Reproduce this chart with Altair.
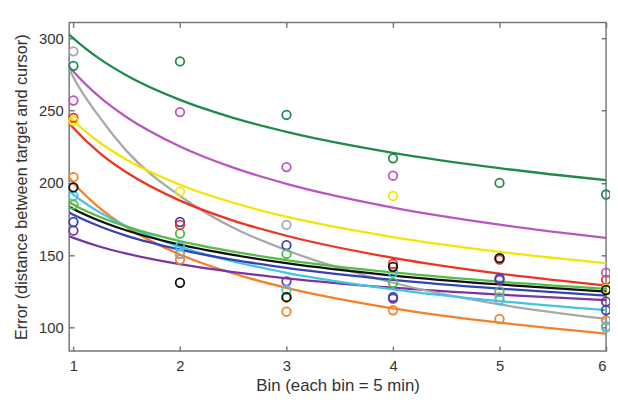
import altair as alt
import pandas as pd

# ---- data ----
series_names = ["orange", "purple", "gray", "cyan", "blue", "ltgreen", "red", "yellow", "magenta", "dkgreen", "black"]
series_colors = ["#f58025", "#7a35a5", "#a8a8a8", "#44c4e4", "#3344bb", "#55bb44", "#ee3322", "#f2e600", "#bb55c0", "#1e8b4c", "#111111"]

bins = [1, 2, 3, 4, 5, 6]
pts_orange = [204, 147, 111, 112, 106, 105]
pts_purple = [167, 151, 132, 120, 133, 118]
pts_gray = [291, 151, 171, 121, 121, 100]
pts_cyan = [191, 156, 126, 138, 119, 101]
pts_blue = [173, 173, 157, 121, 134, 112]
pts_ltgreen = [185, 165, 151, 131, 125, 126]
pts_red = [245, 171, 121, 144, 147, 133]
pts_yellow = [243, 194, 121, 191, 148, 127]
pts_magenta = [257, 249, 211, 205, 148, 138]
pts_dkgreen = [281, 284, 247, 217, 200, 192]
pts_black = [197, 131, 121, 142, 148, 126]

fit_x = [0.96, 1, 1.25, 1.5, 2, 2.5, 3, 4, 5, 6]
fit_orange = [203.4, 200, 182.5, 169.4, 150.5, 137.4, 127.5, 113.3, 103.4, 95.9]
fit_purple = [163.1, 162, 155.9, 151.1, 143.8, 138.4, 134.1, 127.6, 122.8, 119]
fit_gray = [279, 273, 245, 222, 191, 169, 153.5, 131, 116, 106]
fit_cyan = [194.4, 192, 179.5, 170, 155.8, 145.7, 137.9, 126.5, 118.3, 112]
fit_blue = [179.5, 178, 169.9, 163.4, 153.9, 146.8, 141.3, 133, 126.9, 122.1]
fit_ltgreen = [186.6, 185, 176.5, 169.8, 159.8, 152.5, 146.7, 138.1, 131.7, 126.8]
fit_red = [241.3, 238, 220.5, 207.2, 187.8, 174, 163.5, 148.2, 137.3, 129]
fit_yellow = [245.9, 243, 227.8, 216, 198.8, 186.3, 176.7, 162.6, 152.4, 144.5]
fit_magenta = [280.4, 277, 259.1, 245.4, 225.2, 210.6, 199.4, 183, 171.2, 162.1]
fit_dkgreen = [302.7, 300, 285.6, 274.3, 257.4, 245, 235.3, 220.8, 210.2, 201.9]
fit_black = [183.6, 182, 173.7, 167.1, 157.3, 150.2, 144.5, 136, 129.8, 124.9]

x_ticks = [1, 2, 3, 4, 5, 6]
y_ticks = [100, 150, 200, 250, 300]
x_title = "Bin (each bin = 5 min)"
y_title = "Error (distance between target and cursor)"

pts_all = [pts_orange, pts_purple, pts_gray, pts_cyan, pts_blue, pts_ltgreen,
           pts_red, pts_yellow, pts_magenta, pts_dkgreen, pts_black]
fit_all = [fit_orange, fit_purple, fit_gray, fit_cyan, fit_blue, fit_ltgreen,
           fit_red, fit_yellow, fit_magenta, fit_dkgreen, fit_black]

labels = [f"{i:02d} {n}" for i, n in enumerate(series_names)]

pt_rows, fit_rows = [], []
for lab, p, f in zip(labels, pts_all, fit_all):
    for xv, yv in zip(bins, p):
        pt_rows.append({"series": lab, "x": xv, "y": yv})
    for xv, yv in zip(fit_x, f):
        fit_rows.append({"series": lab, "x": xv, "y": yv})
pt_df = pd.DataFrame(pt_rows)
fit_df = pd.DataFrame(fit_rows)

xs = alt.Scale(domain=[0.96, 6.0], nice=False, zero=False)
ys = alt.Scale(domain=[83.8, 311], nice=False, zero=False)
color = alt.Color("series:N", scale=alt.Scale(domain=labels, range=series_colors), legend=None)

FONT = "Liberation Sans"

lines = alt.Chart(fit_df).mark_line(strokeWidth=2.3, clip=True, interpolate="monotone").encode(
    x=alt.X("x:Q", scale=xs, axis=alt.Axis(
        orient="bottom", values=x_ticks, format="d", tickSize=0, domain=False, grid=False,
        labelPadding=8, labelFontSize=15, labelColor="#333", labelFont=FONT,
        title=x_title, titleFontSize=17, titleFontWeight="normal", titleColor="#333",
        titleFont=FONT, titlePadding=4)),
    y=alt.Y("y:Q", scale=ys, axis=alt.Axis(
        orient="left", values=y_ticks, format="d", tickSize=0, domain=False, grid=False,
        labelPadding=6, labelFontSize=15, labelColor="#333", labelFont=FONT,
        title=y_title, titleFontSize=16.5, titleFontWeight="normal", titleColor="#333",
        titleFont=FONT, titlePadding=9)),
    color=color,
    order="x:Q",
)

tick_ax = dict(tickSize=5, labels=False, domain=False, grid=False, title=None,
               tickColor="#777", tickWidth=1.5)

points = alt.Chart(pt_df).mark_point(shape="circle", filled=False, size=75, strokeWidth=1.8, opacity=1).encode(
    x=alt.X("x:Q", scale=xs, axis=alt.Axis(orient="bottom", offset=-5, values=x_ticks, **tick_ax)),
    y=alt.Y("y:Q", scale=ys, axis=alt.Axis(orient="left", offset=-5, values=y_ticks, **tick_ax)),
    color=color,
)

mirror = alt.Chart(pt_df).mark_point(opacity=0).encode(
    x=alt.X("x:Q", scale=xs, axis=alt.Axis(orient="top", offset=-5, values=x_ticks, **tick_ax)),
    y=alt.Y("y:Q", scale=ys, axis=alt.Axis(orient="right", offset=-5, values=y_ticks, **tick_ax)),
)

chart = alt.layer(lines, points, mirror).resolve_axis(
    x="independent", y="independent"
).properties(
    width=544, height=333,
    padding={"left": 62, "top": 12, "right": 4, "bottom": 44},
    autosize=alt.AutoSizeParams(type="none"),
    background="white",
).configure_view(
    stroke="#777", strokeWidth=1.5
)

chart.save("out.html", embed_options={"renderer": "svg", "actions": False})
